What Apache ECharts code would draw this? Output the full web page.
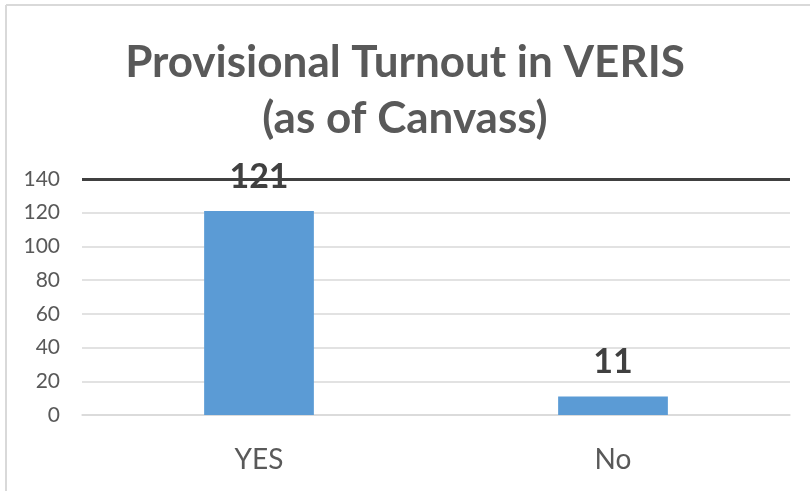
<!DOCTYPE html>
<html>
<head>
<meta charset="utf-8">
<script src="https://cdn.jsdelivr.net/npm/echarts@6/dist/echarts.min.js"></script>
<style>
html,body{margin:0;padding:0;background:#fff;}
#chart{width:810px;height:491px;}
</style>
</head>
<body>
<div id="chart"></div>
<script>
const titleText = 'Provisional Turnout in VERIS\n(as of Canvass)';
const categories = ['YES', 'No'];
const values = [121, 11];
const yTicks = [0, 20, 40, 60, 80, 100, 120, 140];

const chart = echarts.init(document.getElementById('chart'), null, {renderer: 'canvas'});
const font = 'Lato, "Open Sans", sans-serif';
chart.setOption({
  animation: false,
  backgroundColor: '#ffffff',
  title: {
    text: titleText,
    left: 'center',
    top: 30,
    textStyle: {fontFamily: font, fontSize: 44, fontWeight: 'bold', color: '#595959', lineHeight: 56}
  },
  graphic: [
    {type: 'line', shape: {x1: 6, y1: 5, x2: 810, y2: 5}, style: {stroke: '#d9d9d9', lineWidth: 2}},
    {type: 'line', shape: {x1: 6, y1: 5, x2: 6, y2: 491}, style: {stroke: '#d9d9d9', lineWidth: 2}}
  ],
  grid: {left: 82, right: 20, top: 179, bottom: 76, containLabel: false},
  xAxis: {
    type: 'category',
    data: categories,
    axisLine: {show: true, lineStyle: {color: '#d9d9d9', width: 1.5}},
    axisTick: {show: false},
    axisLabel: {fontFamily: font, fontSize: 28, color: '#595959', margin: 31}
  },
  yAxis: {
    type: 'value',
    min: yTicks[0],
    max: yTicks[yTicks.length - 1],
    interval: 20,
    axisLine: {show: false},
    axisTick: {show: false},
    axisLabel: {fontFamily: font, fontSize: 21, color: '#595959', margin: 22},
    splitLine: {lineStyle: {color: '#d9d9d9', width: 1.5}}
  },
  series: [{
    type: 'bar',
    data: values,
    barWidth: '31%',
    itemStyle: {color: '#5b9bd5'},
    label: {show: true, position: 'top', distance: 17, fontFamily: font, fontSize: 34, fontWeight: 'bold', color: '#404040'},
    markLine: {
      silent: true,
      symbol: 'none',
      label: {show: false},
      lineStyle: {color: '#404040', width: 3, type: 'solid'},
      data: [{yAxis: yTicks[yTicks.length - 1]}]
    },
    z: 2
  }]
});
</script>
</body>
</html>
